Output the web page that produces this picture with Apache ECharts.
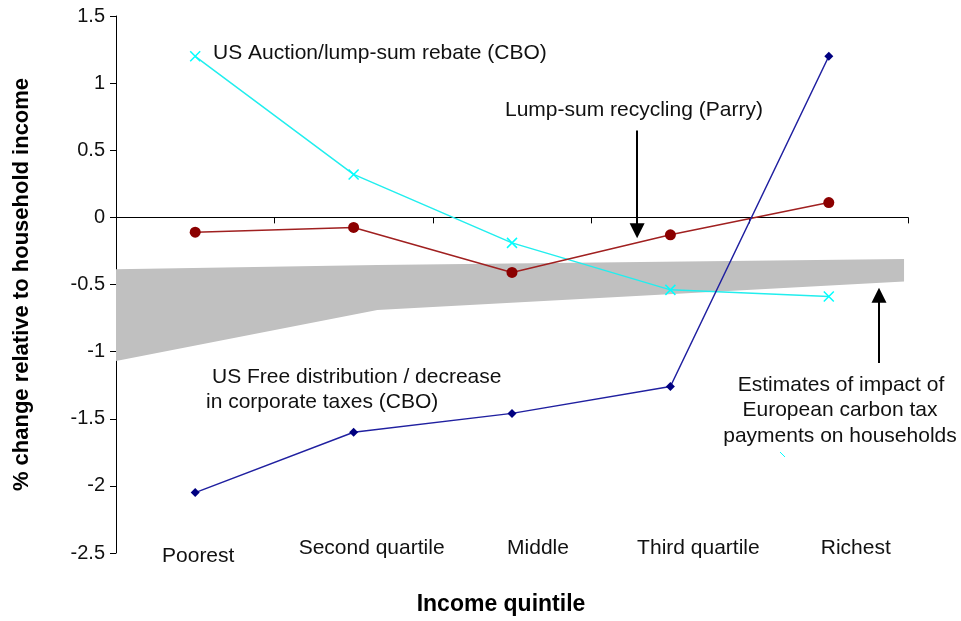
<!DOCTYPE html>
<html><head><meta charset="utf-8">
<script src="https://cdn.jsdelivr.net/npm/echarts@6/dist/echarts.min.js"></script>
<style>html,body{margin:0;padding:0;background:#fff}#c{width:961px;height:621px}</style>
</head><body><div id="c"></div>
<script>
const categories = ['Poorest', 'Second quartile', 'Middle', 'Third quartile', 'Richest'];
const auctionRebate = [1.2, 0.32, -0.19, -0.54, -0.59];
const lumpSumParry = [-0.11, -0.075, -0.41, -0.13, 0.11];
const freeDistribution = [-2.05, -1.6, -1.46, -1.26, 1.2];
// European band (x on a 0..5 continuous scale spanning the category axis)
const bandTop = [[0, -0.387], [1.65, -0.355], [4.975, -0.31]];
const bandBottom = [[0, -1.07], [1.65, -0.69], [4.975, -0.478]];
const arrowParry = [[3.29, 0.648], [3.29, -0.10]];
const arrowEurope = [[4.817, -1.085], [4.817, -0.58]];
const yTicks = { min: -2.5, max: 1.5, interval: 0.5 };

const FONT = 'Liberation Sans, Arial, sans-serif';
const labelShift = [3, 18, 26, 28, 27];
const labelRise = [-4, 0, 0, 0, 1];
const chart = echarts.init(document.getElementById('c'), null, { renderer: 'canvas' });

const rich = {};
labelShift.forEach((dx, i) => {
  rich['c' + i] = { fontSize: 21, fontFamily: FONT, color: '#111', padding: [Math.max(0, -labelRise[i]) * 2, 0, Math.max(0, labelRise[i]) * 2, dx * 2] };
});

const txt = (x, y, s, align) => ({
  type: 'text', x: x, y: y,
  style: { text: s, fill: '#111', font: '21px ' + FONT, textAlign: align || 'left', textVerticalAlign: 'middle' },
  z: 100
});

chart.setOption({
  animation: false,
  backgroundColor: '#fff',
  grid: { left: 116, right: 53, top: 16, bottom: 65 },
  xAxis: [
    {
      type: 'category', data: categories,
      axisLine: { onZero: true, lineStyle: { color: '#000', width: 1 } },
      axisTick: { show: true, length: 6, lineStyle: { color: '#000' } },
      axisLabel: { show: false }, splitLine: { show: false }
    },
    {
      type: 'category', data: categories, position: 'bottom',
      axisLine: { show: false, onZero: false }, axisTick: { show: false },
      axisLabel: {
        interval: 0, margin: -15, color: '#111', fontSize: 21, fontFamily: FONT,
        formatter: (v, i) => '{c' + i + '|' + v + '}', rich: rich
      },
      name: 'Income quintile', nameLocation: 'middle', nameGap: 40,
      nameTextStyle: { fontSize: 23, fontWeight: 'bold', color: '#000', fontFamily: FONT, padding: [0, 22, 0, 0] }
    },
    { type: 'value', min: 0, max: 5, show: false }
  ],
  yAxis: {
    type: 'value', min: yTicks.min, max: yTicks.max, interval: yTicks.interval,
    axisLine: { show: true, lineStyle: { color: '#000' } },
    axisTick: { show: true, length: 6, lineStyle: { color: '#000' } },
    splitLine: { show: false },
    axisLabel: { margin: 11, color: '#111', fontSize: 20, fontFamily: FONT },
    name: '% change relative to household income', nameLocation: 'middle', nameRotate: 90, nameGap: 83,
    nameTextStyle: { fontSize: 22, fontWeight: 'bold', color: '#000', fontFamily: FONT }
  },
  series: [
    {
      type: 'custom', xAxisIndex: 2, silent: true, z: 1,
      data: [[0, 0]],
      renderItem: function (params, api) {
        const pts = bandTop.map(p => api.coord(p)).concat(bandBottom.slice().reverse().map(p => api.coord(p)));
        return { type: 'polygon', shape: { points: pts }, style: { fill: '#c0c0c0' } };
      }
    },
    {
      type: 'line', xAxisIndex: 2, data: [], silent: true, z: 5,
      markLine: {
        silent: true, animation: false,
        symbol: ['none', 'triangle'], symbolSize: [15, 15],
        label: { show: false },
        lineStyle: { color: '#000', width: 2, type: 'solid' },
        emphasis: { disabled: true },
        data: [
          [{ coord: arrowParry[0] }, { coord: arrowParry[1] }],
          [{ coord: arrowEurope[0] }, { coord: arrowEurope[1] }]
        ]
      }
    },
    {
      name: 'US Auction/lump-sum rebate (CBO)', type: 'line', data: auctionRebate, z: 3,
      symbol: 'path://M0,0L10,10M10,0L0,10', symbolSize: 10,
      itemStyle: { color: '#00ffff', borderColor: '#00ffff', borderWidth: 1.5 },
      lineStyle: { color: '#22eeee', width: 1.5 }
    },
    {
      name: 'Lump-sum recycling (Parry)', type: 'line', data: lumpSumParry, z: 3,
      symbol: 'circle', symbolSize: 11,
      itemStyle: { color: '#8b0000' },
      lineStyle: { color: '#a02020', width: 1.5 }
    },
    {
      name: 'US Free distribution / decrease in corporate taxes (CBO)', type: 'line', data: freeDistribution, z: 3,
      symbol: 'diamond', symbolSize: 9,
      itemStyle: { color: '#000080' },
      lineStyle: { color: '#2020a0', width: 1.5 }
    }
  ],
  graphic: [
    txt(213, 53, 'US Auction/lump-sum rebate (CBO)'),
    txt(505, 110, 'Lump-sum recycling (Parry)'),
    txt(212, 377, 'US Free distribution / decrease'),
    txt(206, 402, 'in corporate taxes (CBO)'),
    txt(841, 385, 'Estimates of impact of', 'center'),
    txt(840, 410, 'European carbon tax', 'center'),
    txt(840, 436, 'payments on households', 'center'),
    { type: 'line', shape: { x1: 780, y1: 452, x2: 785, y2: 457 }, style: { stroke: '#00ffff', lineWidth: 1 }, z: 100 }
  ]
});
</script></body></html>
